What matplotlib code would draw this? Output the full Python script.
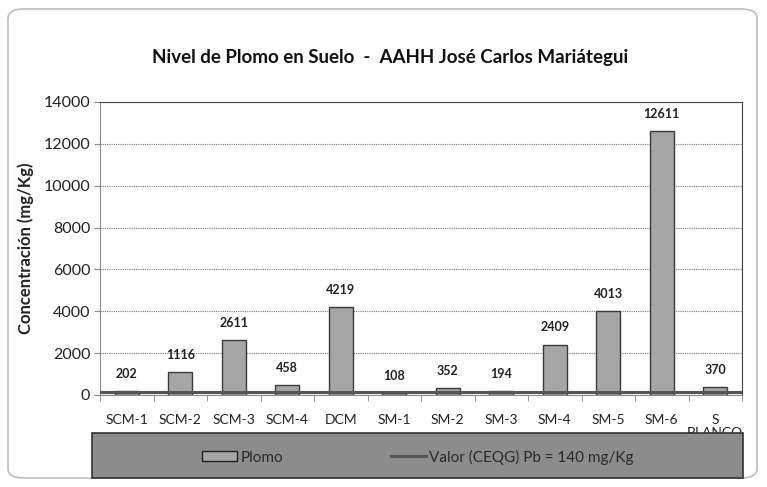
import matplotlib
matplotlib.use("Agg")
import matplotlib.pyplot as plt
from matplotlib.patches import FancyBboxPatch, Rectangle, Patch
from matplotlib.lines import Line2D

categories = ["SCM-1", "SCM-2", "SCM-3", "SCM-4", "DCM", "SM-1", "SM-2", "SM-3",
              "SM-4", "SM-5", "SM-6", "S\nBLANCO"]
plomo = [202, 1116, 2611, 458, 4219, 108, 352, 194, 2409, 4013, 12611, 370]
limite = 140
yticks = [0, 2000, 4000, 6000, 8000, 10000, 12000, 14000]

plt.rcParams['font.family'] = ['Lato', 'DejaVu Sans']

W, H = 767, 487
fig = plt.figure(figsize=(W/100, H/100), dpi=100)

# outer border
fig.patches.append(FancyBboxPatch((8/W, 9/H), (757-8)/W, (478-9)/H,
                                  boxstyle="round,pad=0,rounding_size=0.02",
                                  transform=fig.transFigure, fill=False,
                                  edgecolor="#bdbdbd", linewidth=1.2))

ax = fig.add_axes([100/W, 1-395/H, (742-100)/W, (395-102)/H])
x = list(range(len(categories)))
ax.bar(x, plomo, width=0.45, color="#a6a6a6", edgecolor="#3a3a3a", linewidth=1.0, zorder=3)
ax.plot([-0.5, len(categories)-0.5], [limite, limite], color="#555555", linewidth=2.2, zorder=4)

for xi, v in zip(x, plomo):
    ax.annotate(str(v), (xi, v), xytext=(0, 8), textcoords="offset points",
                ha="center", va="bottom", fontsize=9, fontweight="bold", color="#222222")

ax.set_xlim(-0.5, len(categories)-0.5)
ax.set_ylim(0, 14000)
ax.set_yticks(yticks)
ax.set_yticklabels([str(t) for t in yticks], fontsize=11.5, color="#222222")
ax.yaxis.grid(True, linestyle=(0, (1, 1)), color="#777777", linewidth=0.8, zorder=0)
ax.set_xticks(x)
ax.set_xticklabels(categories, fontsize=10, color="#222222", va="top", linespacing=1.1)
ax.tick_params(axis="x", length=0, pad=14)
ax.set_xticks([i + 0.5 for i in range(-1, len(categories))], minor=True)
ax.tick_params(axis="x", which="minor", length=4, color="#888888")
ax.tick_params(axis="y", length=4, color="#888888", pad=3)
for s in ["left", "bottom"]:
    ax.spines[s].set_color("#888888")
for s in ["top", "right"]:
    ax.spines[s].set_color("#444444")
ax.set_ylabel("Concentración (mg/Kg)", fontsize=12, fontweight="bold", color="#222222", labelpad=7)

fig.text(390/W, 1-58/H, "Nivel de Plomo en Suelo  -  AAHH José Carlos Mariátegui",
         ha="center", va="center", fontsize=13.5, fontweight="bold", color="#111111")

# legend band (drawn over the cut-off second line of the last label)
fig.patches.append(Rectangle((92/W, 1-478/H), (743-92)/W, (478-433)/H,
                             transform=fig.transFigure, facecolor="#8c8c8c",
                             edgecolor="#333333", linewidth=1.2, zorder=5))
handles = [Patch(facecolor="#a6a6a6", edgecolor="#222222", label="Plomo"),
           Line2D([0], [0], color="#555555", linewidth=2.2, label="Valor (CEQG) Pb = 140 mg/Kg")]
leg = fig.legend(handles=handles, loc="center", bbox_to_anchor=(418/W, 1-457/H),
                 ncol=2, frameon=False, fontsize=11, columnspacing=7.0,
                 handlelength=2.3, handleheight=0.6, handletextpad=0.25)
for t in leg.get_texts():
    t.set_color("#2a2a2a")
leg.set_zorder(6)

fig.savefig("out.png", dpi=100)
